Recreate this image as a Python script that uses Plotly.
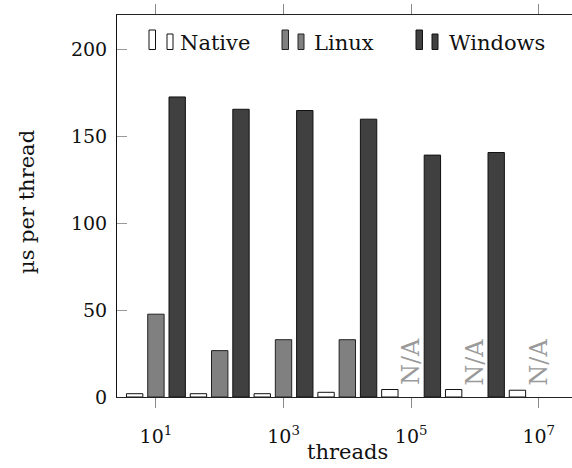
import numpy as np
import plotly.graph_objects as go

# Thread counts (one group of bars per decade)
threads = [10, 100, 1000, 10000, 100000, 1000000, 10000000]

# Per-thread creation cost in microseconds; None = not measured
native = [1.9, 1.9, 1.9, 2.7, 4.3, 4.3, 3.9]
linux = [47.7, 26.7, 33.0, 33.0, None, None, None]
windows = [172.8, 165.7, 165.0, 160.0, 139.3, 140.8, None]

series_names = ["Native", "Linux", "Windows"]
tick_exponents = [1, 3, 5, 7]

FONT = "DejaVu Serif"
x = np.log10(threads)

fills = ["#ffffff", "#808080", "#404040"]
edges = ["#111111", "#222222", "#111111"]

fig = go.Figure()
for name, vals, fc, ec in zip(series_names, [native, linux, windows], fills, edges):
    fig.add_trace(go.Bar(
        x=x, y=vals, name=name,
        marker=dict(color=fc, line=dict(color=ec, width=1)),
        showlegend=False,
    ))

# "N/A" markers where the Linux measurement is missing
for xi, v in zip(x, linux):
    if v is None:
        fig.add_annotation(
            x=xi, y=5.5, text="N/A", showarrow=False, textangle=-90,
            xanchor="center", yanchor="bottom",
            font=dict(family=FONT, size=24, color="#9a9a9a"),
        )

# Legend drawn as pairs of small bars followed by the series name
L, R, T, B = 117, 572, 15, 397
def px(v):
    return (v - L) / (R - L)
def py(v):
    return (B - v) / (B - T)

legend_items = [
    (series_names[0], fills[0], edges[0], 149, 167, 178),
    (series_names[1], fills[1], edges[1], 282, 298, 312),
    (series_names[2], fills[2], edges[2], 416, 432, 447),
]
for name, fc, ec, x1, x2, xt in legend_items:
    fig.add_shape(type="rect", xref="paper", yref="paper",
                  x0=px(x1), x1=px(x1 + 6.5), y0=py(49.5), y1=py(30),
                  fillcolor=fc, line=dict(color=ec, width=1))
    fig.add_shape(type="rect", xref="paper", yref="paper",
                  x0=px(x2), x1=px(x2 + 6), y0=py(49.5), y1=py(34),
                  fillcolor=fc, line=dict(color=ec, width=1))
    fig.add_annotation(xref="paper", yref="paper", x=px(xt), y=py(43),
                       text=name, showarrow=False, xanchor="left", yanchor="middle",
                       font=dict(family=FONT, size=21, color="#111111"))

# Axis titles
fig.add_annotation(xref="paper", yref="paper", x=px(347), y=py(452),
                   text="threads", showarrow=False, xanchor="center", yanchor="middle",
                   font=dict(family=FONT, size=21, color="#111111"))
fig.add_annotation(xref="paper", yref="paper", x=px(27), y=py(202),
                   text="µs per thread", showarrow=False, textangle=-90,
                   xanchor="center", yanchor="middle",
                   font=dict(family=FONT, size=21, color="#111111"))

fig.update_layout(
    width=572, height=468,
    margin=dict(l=L, r=572 - R, t=T, b=468 - B),
    paper_bgcolor="white", plot_bgcolor="white",
    barmode="group", bargap=0.0, bargroupgap=0.23,
    font=dict(family=FONT, size=19, color="#111111"),
    xaxis=dict(
        range=[0.39, 0.39 + (R - L) / 63.8],
        tickvals=tick_exponents,
        ticktext=[f"10<sup>{e}</sup>" for e in tick_exponents],
        ticks="outside", ticklen=10, tickcolor="#8a8a8a", tickwidth=1,
        showline=True, linecolor="#222222", linewidth=1, mirror="ticks",
        showgrid=False, zeroline=False, ticklabelstandoff=12,
        tickfont=dict(size=19),
    ),
    yaxis=dict(
        range=[0, 220],
        tickvals=[0, 50, 100, 150, 200],
        ticks="inside", ticklen=10, tickcolor="#9a9a9a", tickwidth=1,
        showline=True, linecolor="#111111", linewidth=1,
        showgrid=False, zeroline=False, ticklabelstandoff=5,
        tickfont=dict(size=19),
    ),
    yaxis2=dict(
        overlaying="y", side="right", range=[0, 220],
        tickvals=[0, 50, 100, 150, 200],
        ticks="inside", ticklen=6, tickcolor="#9a9a9a", tickwidth=1,
        showticklabels=False, showline=False, showgrid=False, zeroline=False,
    ),
)

fig.write_html("out.html")
